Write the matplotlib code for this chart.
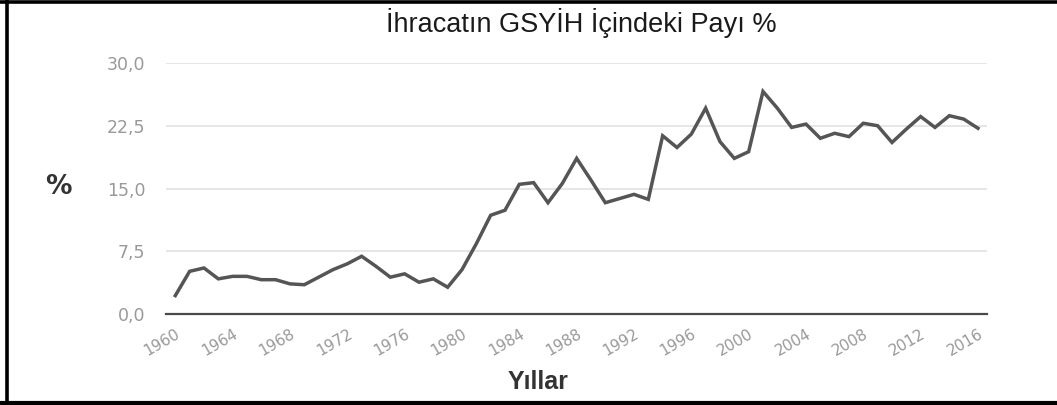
import numpy as np
import matplotlib
matplotlib.use("Agg")
import matplotlib.pyplot as plt
from matplotlib.lines import Line2D

# Exports as % of GDP, Turkey
years = list(range(1960, 2017))
share = [2.2, 5.1, 5.5, 4.2, 4.5, 4.5, 4.1, 4.1, 3.6, 3.5,
         4.4, 5.3, 6.0, 6.9, 5.7, 4.4, 4.8, 3.8, 4.2, 3.2,
         5.3, 8.4, 11.8, 12.4, 15.5, 15.7, 13.3, 15.6, 18.6, 16.0,
         13.3, 13.8, 14.3, 13.7, 21.3, 19.9, 21.5, 24.6, 20.6, 18.6,
         19.4, 26.6, 24.6, 22.3, 22.7, 21.0, 21.6, 21.2, 22.8, 22.5,
         20.5, 22.1, 23.6, 22.3, 23.7, 23.3, 22.2]
xticks = list(range(1960, 2017, 4))
yticks = [0.0, 7.5, 15.0, 22.5, 30.0]

W, H = 1057, 405
fig = plt.figure(figsize=(W / 100, H / 100), dpi=100)
ax = fig.add_axes([166 / W, 1 - 314 / H, (987 - 166) / W, (314 - 63) / H])

ax.plot(years, share, color="#555555", lw=2.5, solid_joinstyle="miter")

ax.set_xlim(1960 - 9.3 / 14.32, 2016 + 9 / 14.32)
ax.set_ylim(0, 30)
ax.set_yticks(yticks)
ax.set_yticklabels([f"{v:.1f}".replace(".", ",") for v in yticks],
                   family="DejaVu Sans", fontsize=12.5, color="#999999")
ax.set_xticks(xticks)
ax.set_xticklabels([str(y) for y in xticks], rotation=30, ha="right",
                   rotation_mode="anchor", family="DejaVu Sans",
                   fontsize=11, color="#999999")
ax.tick_params(length=0, axis="both")
ax.tick_params(axis="y", pad=15)
ax.tick_params(axis="x", pad=9)
ax.grid(axis="y", color="#e2e2e2", lw=1.2)
ax.set_axisbelow(True)
for s in ["top", "right", "left"]:
    ax.spines[s].set_visible(False)
ax.spines["bottom"].set_color("#4a4a4a")
ax.spines["bottom"].set_linewidth(1.6)

fig.text(581 / W, 1 - 23 / H, "İhracatın GSYİH İçindeki Payı %",
         family="Liberation Sans", fontsize=19.5, color="#1a1a1a",
         ha="center", va="center")
fig.text(58 / W, 1 - 187 / H, "%", family="DejaVu Sans",
         fontsize=19, fontweight="bold", color="#333333", ha="center", va="center")
fig.text(538 / W, 1 - 382 / H, "Yıllar", family="Liberation Sans",
         fontsize=18, fontweight="bold", color="#333333", ha="center", va="center")

# black frame (left, top, bottom)
fig.add_artist(Line2D([6.5 / W, 6.5 / W], [0, 1], color="black", lw=2.6,
                      transform=fig.transFigure))
fig.add_artist(Line2D([0, 1], [1 - 1.5 / H, 1 - 1.5 / H], color="black", lw=2.6,
                      transform=fig.transFigure))
fig.add_artist(Line2D([0, 1], [2.5 / H, 2.5 / H], color="black", lw=3,
                      transform=fig.transFigure))

fig.savefig("out.png", dpi=100)
